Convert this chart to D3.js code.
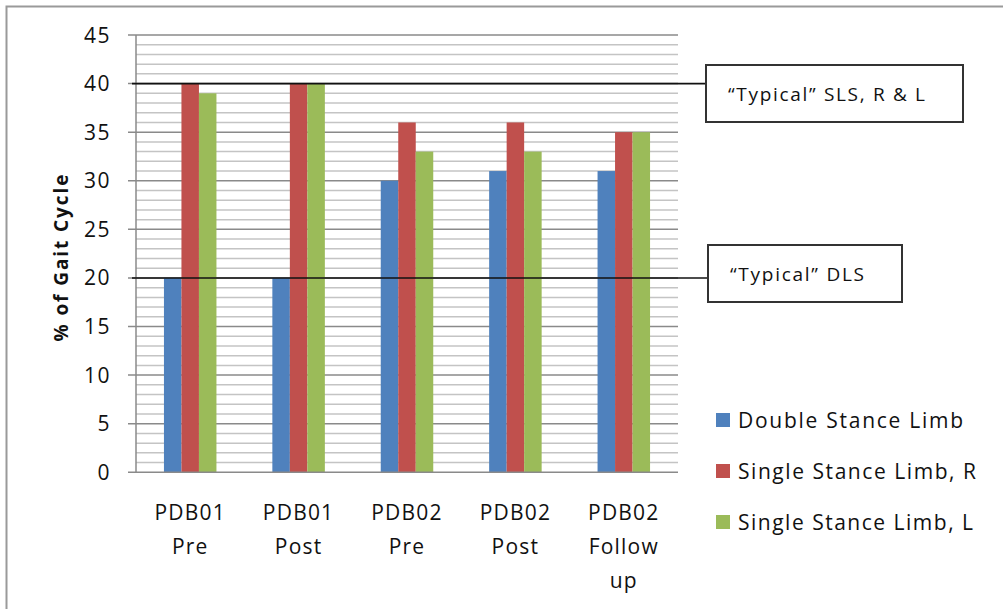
<!DOCTYPE html>
<html>
<head>
<meta charset="utf-8">
<script src="https://cdn.jsdelivr.net/npm/d3@7"></script>
<style>
  html, body { margin: 0; padding: 0; background: #fff; }
  svg { display: block; }
  text { font-family: "Open Sans", "DejaVu Sans", sans-serif; fill: #111; }
</style>
</head>
<body>
<svg id="chart" width="1003" height="609"></svg>
<script>
// Gait phase durations, % of gait cycle
const categories = [["PDB01", "Pre"], ["PDB01", "Post"], ["PDB02", "Pre"], ["PDB02", "Post"], ["PDB02", "Follow", "up"]];
const seriesNames = ["Double Stance Limb", "Single Stance Limb, R", "Single Stance Limb, L"];
const doubleStance = [20, 20, 30, 31, 31];
const singleStanceR = [40, 40, 36, 36, 35];
const singleStanceL = [39, 40, 33, 33, 35];
const seriesColors = ["#4F81BD", "#C0504D", "#9BBB59"];
const yTicks = [0, 5, 10, 15, 20, 25, 30, 35, 40, 45];
const yTitle = "% of Gait Cycle";

// Reference values marked with callout boxes
const typicalValues = [40, 20];
const typicalLabels = ["\u201CTypical\u201D SLS, R & L", "\u201CTypical\u201D DLS"];

const svg = d3.select("#chart");
const series = [doubleStance, singleStanceR, singleStanceL];

const plot = { left: 136, right: 678, top: 35, bottom: 472.3 };

const y = d3.scaleLinear().domain([0, 45]).range([plot.bottom, plot.top]);
const x0 = d3.scaleBand().domain(d3.range(categories.length)).range([plot.left, plot.right]).paddingInner(0).paddingOuter(0);
const barW = 17.5;
const x1 = d3.scaleBand().domain(d3.range(series.length)).range([0, barW * series.length]);

// Fit a text element to a given rendered width by spacing its glyphs
function fitWidth(sel, w) {
  sel.attr("textLength", w).attr("lengthAdjust", "spacing");
}

// Outer chart border
svg.append("rect")
  .attr("x", 6.5).attr("y", 6.5).attr("width", 1010).attr("height", 620)
  .attr("fill", "none").attr("stroke", "#9a9a9a").attr("stroke-width", 2);

// Minor gridlines (every 1 unit)
svg.append("g").selectAll("line")
  .data(d3.range(1, 46).filter(v => v % 5 !== 0))
  .join("line")
  .attr("x1", plot.left).attr("x2", plot.right)
  .attr("y1", d => y(d)).attr("y2", d => y(d))
  .attr("stroke", "#c4c4c4").attr("stroke-width", 1.5);

// Major gridlines (every 5 units)
svg.append("g").selectAll("line")
  .data(yTicks.filter(v => v > 0))
  .join("line")
  .attr("x1", plot.left - 8).attr("x2", plot.right)
  .attr("y1", d => y(d)).attr("y2", d => y(d))
  .attr("stroke", "#8a8a8a").attr("stroke-width", 1.5);

// Bars
const groups = svg.append("g").selectAll("g")
  .data(categories.map((c, i) => i))
  .join("g")
  .attr("transform", i => `translate(${x0(i) + (x0.bandwidth() - barW * series.length) / 2},0)`);

groups.selectAll("rect")
  .data(i => series.map((s, k) => ({ k, v: s[i] })))
  .join("rect")
  .attr("x", d => x1(d.k))
  .attr("width", x1.bandwidth())
  .attr("y", d => y(d.v))
  .attr("height", d => y(0) - y(d.v))
  .attr("fill", d => seriesColors[d.k]);

// Axes lines
svg.append("line")
  .attr("x1", plot.left).attr("x2", plot.left)
  .attr("y1", plot.top).attr("y2", plot.bottom)
  .attr("stroke", "#8a8a8a").attr("stroke-width", 1.5);
svg.append("line")
  .attr("x1", plot.left - 8).attr("x2", plot.right)
  .attr("y1", plot.bottom).attr("y2", plot.bottom)
  .attr("stroke", "#8a8a8a").attr("stroke-width", 1.5);

// Y tick labels
svg.append("g").selectAll("text")
  .data(yTicks)
  .join("text")
  .attr("x", 111)
  .attr("y", d => y(d) + 7.5)
  .attr("text-anchor", "end")
  .attr("font-size", 21)
  .attr("letter-spacing", 1.5)
  .text(d => d);

// Y axis title
svg.append("text")
  .attr("transform", `translate(68,${258}) rotate(-90)`)
  .attr("text-anchor", "middle")
  .attr("font-size", 19)
  .attr("font-weight", "bold")
  .call(fitWidth, 167)
  .text(yTitle);

// Category labels
const catLabels = svg.append("g").selectAll("text")
  .data(categories.map((c, i) => ({ c, i })))
  .join("text")
  .attr("text-anchor", "middle")
  .attr("font-size", 21)
  .attr("letter-spacing", 1.2);
catLabels.selectAll("tspan")
  .data(d => d.c.map((line, j) => ({ line, j, i: d.i })))
  .join("tspan")
  .attr("x", d => x0(d.i) + x0.bandwidth() / 2)
  .attr("y", d => 520 + d.j * 34)
  .text(d => d.line);

// "Typical" reference lines with callout boxes
const boxes = [
  { x: 706, y: 65, w: 257, h: 57, tw: 197 },
  { x: 708, y: 245, w: 194, h: 57, tw: 134 }
];
typicalValues.forEach((v, i) => {
  const b = boxes[i];
  svg.append("line")
    .attr("x1", plot.left - 4).attr("x2", b.x)
    .attr("y1", y(v)).attr("y2", y(v))
    .attr("stroke", "#111").attr("stroke-width", 1.6);
  svg.append("rect")
    .attr("x", b.x).attr("y", b.y).attr("width", b.w).attr("height", b.h)
    .attr("fill", "#fff").attr("stroke", "#333").attr("stroke-width", 2);
  svg.append("text")
    .attr("x", b.x + 22).attr("y", b.y + b.h / 2 + 7)
    .attr("font-size", 19)
    .call(fitWidth, b.tw)
    .text(typicalLabels[i]);
});

// Legend
const legendWidths = [225, 238, 235];
const legend = svg.append("g").selectAll("g")
  .data(seriesNames.map((n, k) => ({ n, k })))
  .join("g")
  .attr("transform", d => `translate(716,${420 + d.k * 51})`);
legend.append("rect")
  .attr("x", 0).attr("y", -7).attr("width", 14).attr("height", 14)
  .attr("fill", d => seriesColors[d.k]);
legend.append("text")
  .attr("x", 22).attr("y", 7.5)
  .attr("font-size", 21)
  .attr("textLength", d => legendWidths[d.k])
  .attr("lengthAdjust", "spacing")
  .text(d => d.n);
</script>
</body>
</html>
